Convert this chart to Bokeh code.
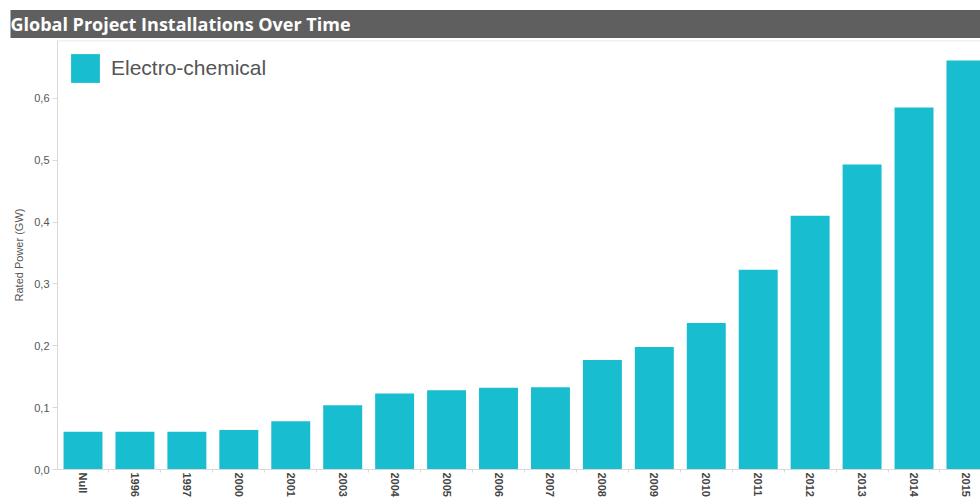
from bokeh.plotting import figure
from bokeh.models import (Range1d, FixedTicker, CustomJSTickFormatter,
                          Legend, LegendItem, Span, Title, ColumnDataSource)
from bokeh.embed import file_html
from bokeh.resources import INLINE

title_text = "Global Project Installations Over Time"
series_name = "Electro-chemical"
y_label = "Rated Power (GW)"
years = ["Null", "1996", "1997", "2000", "2001", "2003", "2004", "2005", "2006",
         "2007", "2008", "2009", "2010", "2011", "2012", "2013", "2014", "2015"]
rated_power_gw = [0.061, 0.061, 0.061, 0.064, 0.078, 0.104, 0.123, 0.128, 0.132,
                  0.133, 0.177, 0.198, 0.237, 0.323, 0.410, 0.493, 0.585, 0.661]
y_ticks = [0.0, 0.1, 0.2, 0.3, 0.4, 0.5, 0.6]

BAR = "#18BECF"
GRAY = "#555555"
AXIS = "#D9D9D9"

positions = list(range(len(years)))
boundaries = [i - 0.5 for i in positions] + [len(years) - 0.5]
src = ColumnDataSource(data=dict(pos=positions, year=years, power=rated_power_gw))

ttl = Title(text=title_text, align="left", offset=-47, standoff=5,
            text_color="white", text_font="Open Sans", text_font_style="bold",
            text_font_size="18px", background_fill_color="#5F5F5F",
            background_fill_alpha=1.0,
            padding=dict(left=0, right=720, top=2, bottom=2))

p = figure(width=980, height=499, output_backend="svg", toolbar_location=None,
           title=ttl,
           x_range=Range1d(-0.491, 17.28),
           y_range=Range1d(0, 0.6935),
           min_border_left=57, min_border_right=0, min_border_top=40, min_border_bottom=29)
p.outline_line_color = None
p.grid.visible = False
p.background_fill_color = "white"
p.border_fill_color = "white"

r = p.vbar(x="pos", top="power", width=0.75, source=src, fill_color=BAR, line_color=None)

p.add_layout(Span(location=0.6935, dimension="width", line_color="#E3E3E3", line_width=1.5))

p.yaxis.ticker = FixedTicker(ticks=y_ticks)
p.yaxis.formatter = CustomJSTickFormatter(code="return tick.toFixed(1).replace('.', ',');")
p.yaxis.axis_label = y_label
p.yaxis.axis_label_text_font = "Liberation Sans"
p.yaxis.axis_label_text_font_style = "normal"
p.yaxis.axis_label_text_font_size = "11px"
p.yaxis.axis_label_text_color = GRAY
p.yaxis.axis_label_standoff = 6
p.yaxis.major_label_text_font = "Liberation Sans"
p.yaxis.major_label_text_font_size = "11px"
p.yaxis.major_label_text_color = GRAY
p.yaxis.major_label_standoff = 3
p.yaxis.axis_line_color = AXIS
p.yaxis.major_tick_line_color = AXIS
p.yaxis.major_tick_out = 5
p.yaxis.major_tick_in = 0
p.yaxis.minor_tick_line_color = None

p.xaxis.ticker = FixedTicker(ticks=positions, minor_ticks=boundaries)
p.xaxis.formatter = CustomJSTickFormatter(args=dict(labels=years),
                                          code="const i = Math.round(tick); return (i >= 0 && i < labels.length) ? labels[i] : '';")
p.xaxis.major_label_orientation = "vertical"
p.xaxis.major_label_text_font = "Liberation Sans"
p.xaxis.major_label_text_font_style = "bold"
p.xaxis.major_label_text_font_size = "11px"
p.xaxis.major_label_text_color = "#444444"
p.xaxis.major_label_standoff = 0
p.xaxis.axis_line_color = AXIS
p.xaxis.major_tick_line_color = None
p.xaxis.major_tick_out = 0
p.xaxis.major_tick_in = 0
p.xaxis.minor_tick_line_color = AXIS
p.xaxis.minor_tick_out = 3
p.xaxis.minor_tick_in = 0

legend = Legend(items=[LegendItem(label=series_name, renderers=[r])],
                location="top_left", margin=10, padding=0,
                glyph_width=36, glyph_height=36, label_height=36,
                label_standoff=8, label_text_font="Liberation Sans",
                label_text_font_size="21px", label_text_color=GRAY,
                border_line_color=None, background_fill_alpha=0)
p.add_layout(legend)

open("out.html", "w").write(file_html(p, INLINE))
